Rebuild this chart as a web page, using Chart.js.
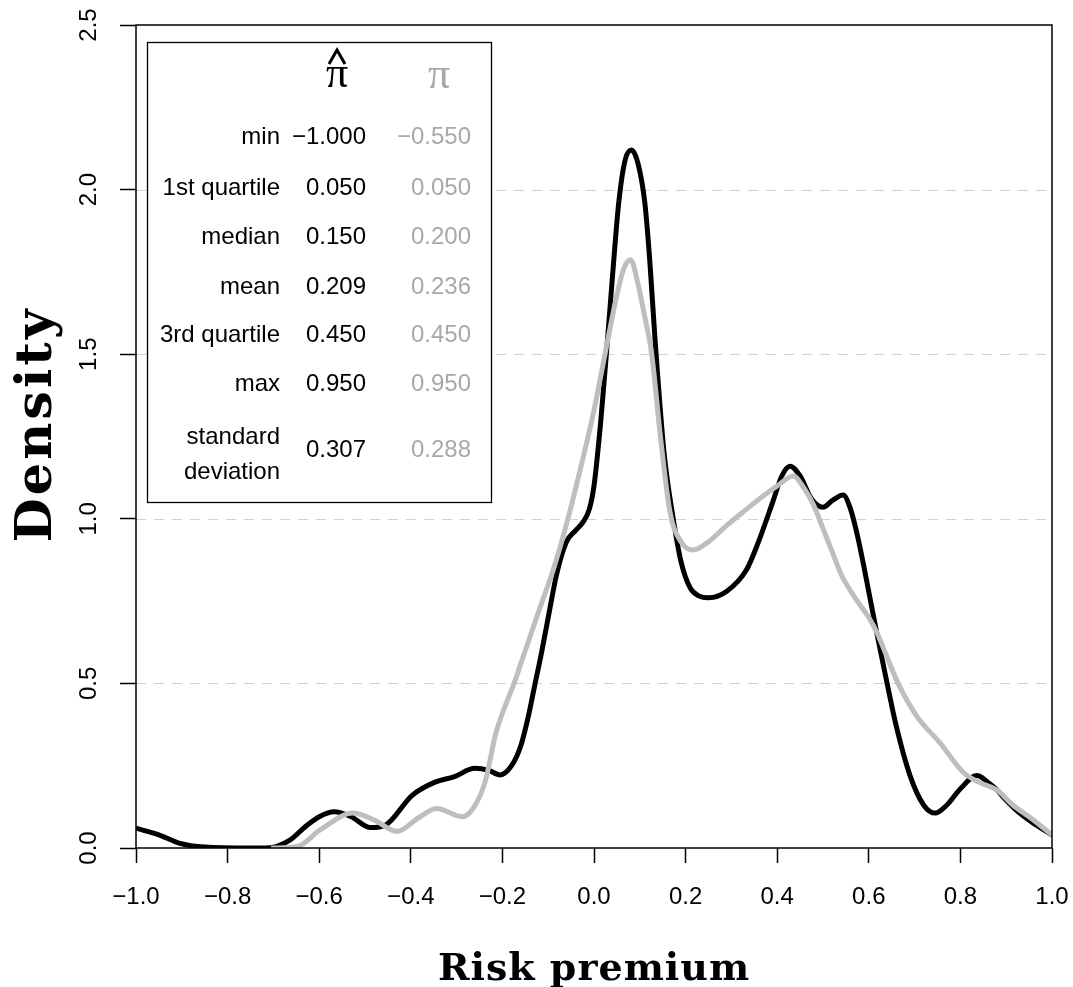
<!DOCTYPE html>
<html>
<head>
<meta charset="utf-8">
<script src="https://cdn.jsdelivr.net/npm/chart.js@4.4.1/dist/chart.umd.min.js"></script>
<style>
  body { margin: 0; background: #ffffff; }
  #wrap { width: 1073px; height: 987px; }
</style>
</head>
<body>
<div id="wrap"><canvas id="density-chart" width="1073" height="987"></canvas></div>
<script>
// Kernel density of the estimated premium (pi hat)
var hatX = [-1.0, -0.95, -0.906, -0.85, -0.75, -0.714, -0.664, -0.631, -0.6, -0.567, -0.53, -0.488, -0.455,
    -0.397, -0.347, -0.306, -0.26, -0.23, -0.205, -0.18, -0.16, -0.145, -0.13, -0.115, -0.1, -0.081, -0.06,
    -0.04, -0.024, -0.01, 0.0, 0.015, 0.027, 0.04, 0.054, 0.068, 0.082, 0.096, 0.111, 0.122, 0.133,
    0.153, 0.173, 0.19, 0.21, 0.23, 0.25, 0.29, 0.333, 0.355, 0.39, 0.41, 0.428, 0.45, 0.475, 0.5,
    0.52, 0.544, 0.56, 0.575, 0.59, 0.617, 0.64, 0.66, 0.69, 0.72, 0.745, 0.77, 0.8, 0.836, 0.86,
    0.88, 0.9, 0.93, 0.96, 1.0];
var hatY = [0.06, 0.04, 0.015, 0.003, 0.0, 0.0, 0.024, 0.064, 0.095, 0.11, 0.095, 0.062, 0.07,
    0.16, 0.2, 0.216, 0.242, 0.236, 0.222, 0.25, 0.31, 0.39, 0.49, 0.59, 0.7, 0.835, 0.93,
    0.965, 0.99, 1.03, 1.1, 1.3, 1.5, 1.73, 1.96, 2.09, 2.12, 2.08, 1.96, 1.78, 1.55,
    1.2, 1.0, 0.87, 0.79, 0.765, 0.76, 0.78, 0.845, 0.915, 1.05, 1.13, 1.16, 1.13, 1.06, 1.035,
    1.055, 1.072, 1.03, 0.95, 0.85, 0.656, 0.5, 0.37, 0.22, 0.13, 0.106, 0.13, 0.18, 0.22, 0.2,
    0.176, 0.145, 0.105, 0.075, 0.04];

// Kernel density of the observed premium (pi)
var piX = [-0.705, -0.647, -0.598, -0.526, -0.48, -0.43, -0.38, -0.343, -0.288, -0.264, -0.238, -0.214,
    -0.172, -0.15, -0.118, -0.089, -0.057, -0.03, 0.0, 0.024, 0.05, 0.065, 0.08, 0.095, 0.11, 0.126,
    0.145, 0.166, 0.19, 0.216, 0.25, 0.29, 0.334, 0.37, 0.4, 0.435, 0.46, 0.48, 0.5, 0.52, 0.54, 0.57,
    0.6, 0.617, 0.664, 0.705, 0.755, 0.806, 0.84, 0.88, 0.915, 0.95, 1.0];
var piY = [0.0, 0.005, 0.055, 0.106, 0.085, 0.05, 0.095, 0.12, 0.095, 0.12, 0.2, 0.35,
    0.51, 0.6, 0.73, 0.845, 1.0, 1.15, 1.33, 1.5, 1.68, 1.76, 1.787, 1.72, 1.62, 1.5,
    1.25, 1.02, 0.93, 0.905, 0.93, 0.98, 1.03, 1.07, 1.1, 1.13, 1.09, 1.04, 0.97, 0.9, 0.83, 0.76,
    0.7, 0.656, 0.5, 0.4, 0.32, 0.23, 0.2, 0.176, 0.13, 0.095, 0.04];

var xTicks = [-1.0, -0.8, -0.6, -0.4, -0.2, 0.0, 0.2, 0.4, 0.6, 0.8, 1.0];
var yTicks = [0.0, 0.5, 1.0, 1.5, 2.0, 2.5];

// Summary table inside the plot
var statLabels = ['min', '1st quartile', 'median', 'mean', '3rd quartile', 'max', 'standard\ndeviation'];
var hatStats = ['\u22121.000', '0.050', '0.150', '0.209', '0.450', '0.950', '0.307'];
var piStats = ['\u22120.550', '0.050', '0.200', '0.236', '0.450', '0.950', '0.288'];

var GREY_LINE = '#bebebe';
var GREY_TEXT = '#a8a8a8';
var SANS = '"Liberation Sans", Arial, sans-serif';
var SERIF_BOLD = 'bold {size}px "DejaVu Serif", serif';

function toPoints(xs, ys) {
    return xs.map(function(x, i) { return { x: x, y: ys[i] }; });
}

function fmt(v) {
    if (Math.abs(v) < 1e-9) return '0.0';
    return v.toFixed(1).replace('-', '\u2212');
}

// Dashed horizontal guides, drawn under the curves
var guidesPlugin = {
    id: 'guides',
    beforeDatasetsDraw: function(chart) {
        var ctx = chart.ctx, area = chart.chartArea, ys = chart.scales.y;
        ctx.save();
        ctx.strokeStyle = '#d2d2d2';
        ctx.lineWidth = 1.2;
        ctx.setLineDash([10, 8]);
        yTicks.forEach(function(v) {
            if (v <= 0 || v >= 2.5) return;
            var py = Math.round(ys.getPixelForValue(v)) + 0.5;
            ctx.beginPath();
            ctx.moveTo(area.left, py);
            ctx.lineTo(area.right, py);
            ctx.stroke();
        });
        ctx.restore();
    }
};

// Frame, axis titles, rotated y labels and the summary box
var overlayPlugin = {
    id: 'overlay',
    afterDraw: function(chart) {
        var ctx = chart.ctx, area = chart.chartArea, ys = chart.scales.y;
        var midX = (area.left + area.right) / 2, midY = (area.top + area.bottom) / 2;
        ctx.save();

        ctx.strokeStyle = '#000';
        ctx.lineWidth = 1.5;
        ctx.strokeRect(area.left, area.top, area.right - area.left, area.bottom - area.top);

        ctx.fillStyle = '#000';
        ctx.font = '24px ' + SANS;
        ctx.textAlign = 'center';
        ctx.textBaseline = 'middle';
        yTicks.forEach(function(v) {
            ctx.save();
            ctx.translate(89, ys.getPixelForValue(v));
            ctx.rotate(-Math.PI / 2);
            ctx.fillText(v.toFixed(1), 0, 0);
            ctx.restore();
        });

        // axis titles
        ctx.textBaseline = 'alphabetic';
        ctx.font = SERIF_BOLD.replace('{size}', 38);
        ctx.letterSpacing = '1px';
        ctx.fillText('Risk premium', midX, 980);
        ctx.save();
        ctx.translate(51, midY - 12);
        ctx.rotate(-Math.PI / 2);
        ctx.font = SERIF_BOLD.replace('{size}', 51);
        ctx.letterSpacing = '3px';
        ctx.fillText('Density', 0, 0);
        ctx.restore();
        ctx.letterSpacing = '0px';

        // summary box
        var bx = 147, by = 42, bw = 344, bh = 460;
        ctx.fillStyle = '#fff';
        ctx.fillRect(bx, by, bw, bh);
        ctx.lineWidth = 1.3;
        ctx.strokeRect(bx + 0.5, by + 0.5, bw, bh);

        // column headers
        ctx.font = '44px "Liberation Serif", serif';
        ctx.textAlign = 'center';
        ctx.textBaseline = 'alphabetic';
        ctx.fillStyle = '#000';
        ctx.fillText('\u03c0', 337, 87);
        ctx.strokeStyle = '#000';
        ctx.lineWidth = 3;
        ctx.beginPath();
        ctx.moveTo(329, 64);
        ctx.lineTo(337, 50);
        ctx.lineTo(345, 64);
        ctx.stroke();
        ctx.fillStyle = GREY_TEXT;
        ctx.fillText('\u03c0', 439, 88);

        ctx.font = '24px ' + SANS;
        ctx.textAlign = 'right';
        ctx.textBaseline = 'middle';
        var rowY = [137, 188, 237, 287, 335, 384, 450];
        statLabels.forEach(function(lbl, i) {
            ctx.fillStyle = '#000';
            var parts = lbl.split('\n');
            if (parts.length > 1) {
                ctx.fillText(parts[0], 280, rowY[i] - 13);
                ctx.fillText(parts[1], 280, rowY[i] + 22);
            } else {
                ctx.fillText(lbl, 280, rowY[i]);
            }
            ctx.fillText(hatStats[i], 366, rowY[i]);
            ctx.fillStyle = GREY_TEXT;
            ctx.fillText(piStats[i], 471, rowY[i]);
        });
        ctx.restore();
    }
};

document.addEventListener('DOMContentLoaded', function() {
    var canvas = document.getElementById('density-chart');

    new Chart(canvas, {
        type: 'scatter',
        data: {
            datasets: [{
                label: 'pi hat',
                data: toPoints(hatX, hatY),
                showLine: true,
                borderColor: '#000000',
                borderWidth: 5,
                pointRadius: 0,
                cubicInterpolationMode: 'monotone',
                order: 1
            }, {
                label: 'pi',
                data: toPoints(piX, piY),
                showLine: true,
                borderColor: GREY_LINE,
                borderWidth: 5,
                pointRadius: 0,
                cubicInterpolationMode: 'monotone',
                order: 0
            }]
        },
        options: {
            responsive: false,
            animation: false,
            events: [],
            layout: { padding: { left: 0, right: 21, top: 25, bottom: 0 } },
            plugins: { legend: { display: false }, tooltip: { enabled: false } },
            scales: {
                x: {
                    type: 'linear',
                    min: -1,
                    max: 1,
                    afterBuildTicks: function(scale) {
                        scale.ticks = xTicks.map(function(v) { return { value: v }; });
                    },
                    afterFit: function(scale) {
                        scale.height = 139;
                        scale.paddingLeft = 0;
                        scale.paddingRight = 0;
                    },
                    border: { display: false },
                    grid: {
                        drawOnChartArea: false,
                        drawTicks: true,
                        tickLength: 15,
                        tickColor: '#000',
                        tickWidth: 1.5
                    },
                    ticks: {
                        padding: 20,
                        color: '#000',
                        font: { family: SANS, size: 24 },
                        maxRotation: 0,
                        autoSkip: false,
                        callback: function(v) { return fmt(v); }
                    }
                },
                y: {
                    type: 'linear',
                    min: 0,
                    max: 2.5,
                    afterBuildTicks: function(scale) {
                        scale.ticks = yTicks.map(function(v) { return { value: v }; });
                    },
                    afterFit: function(scale) { scale.width = 136; },
                    border: { display: false },
                    grid: {
                        drawOnChartArea: false,
                        drawTicks: true,
                        tickLength: 16,
                        tickColor: '#000',
                        tickWidth: 1.5
                    },
                    ticks: { display: false }
                }
            }
        },
        plugins: [guidesPlugin, overlayPlugin]
    });
});
</script>
</body>
</html>
